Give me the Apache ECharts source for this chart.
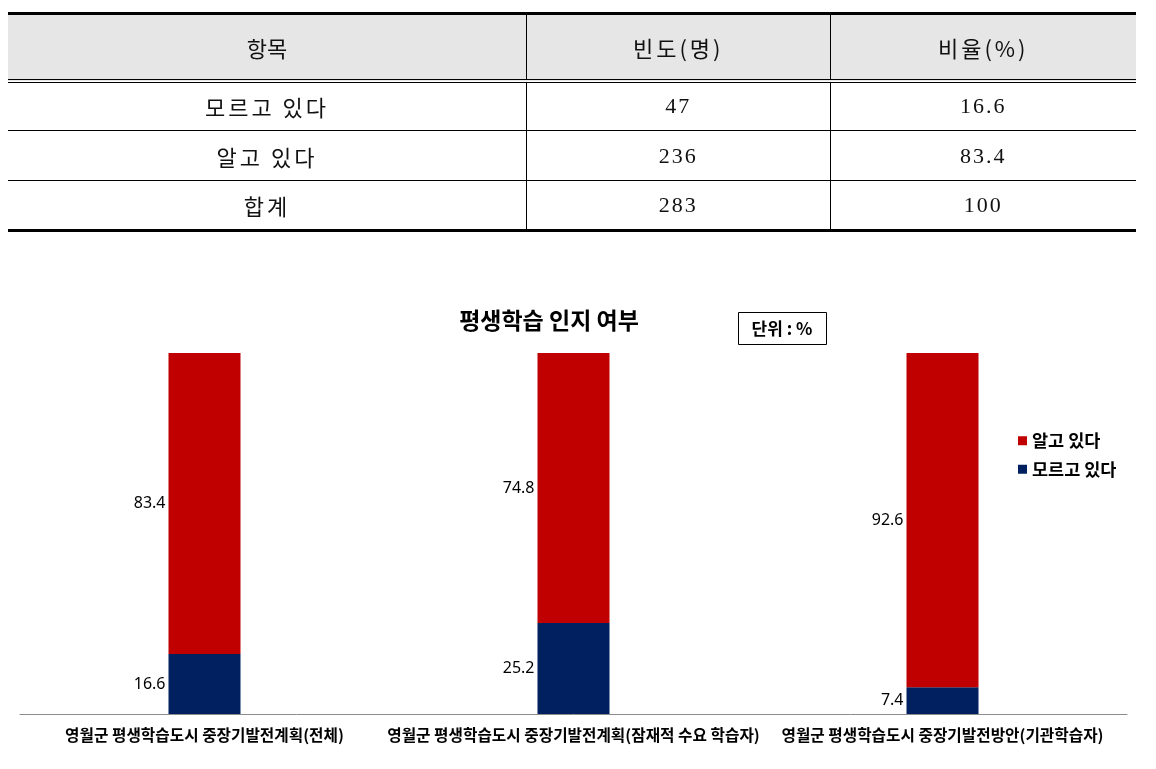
<!DOCTYPE html>
<html>
<head>
<meta charset="utf-8">
<script src="https://cdn.jsdelivr.net/npm/echarts@6/dist/echarts.min.js"></script>
<style>
  html, body { margin:0; padding:0; background:#fff; }
  #wrap { position:relative; width:1156px; height:769px; overflow:hidden; }
  #chart { position:absolute; left:0; top:0; width:1156px; height:769px; }
  #tbl { position:absolute; left:8px; top:12px; width:1128px; border-collapse:collapse;
         font-family:"Liberation Serif","Noto Sans CJK KR",serif; font-size:22px; color:#111; z-index:2; }
  #tbl th, #tbl td { text-align:center; padding:0; font-weight:normal; }
  #tbl thead tr { height:67px; background:#e6e6e6; }
  #tbl thead th { border-top:3px solid #000; border-bottom:4px double #000; }
  #tbl tbody tr { height:50px; }
  #tbl tbody td { border-bottom:1px solid #000; letter-spacing:2px; }
  #tbl tbody tr:last-child td { border-bottom:3px solid #000; }
  #tbl th + th, #tbl td + td { border-left:1px solid #000; }
  #tbl .ko { font-family:"Noto Sans CJK KR", sans-serif; letter-spacing:3px; }
</style>
</head>
<body>
<div id="wrap">
  <div id="chart"></div>
  <table id="tbl"><thead><tr id="hrow"></tr></thead><tbody id="tbody"></tbody></table>
</div>
<script>
// ---- table data ----
var tableHeaders = ['항목', '빈도(명)', '비율(%)'];
var tableItems = ['모르고 있다', '알고 있다', '합계'];
var tableFreq = [47, 236, 283];
var tableRatio = ['16.6', '83.4', '100'];

// ---- chart data ----
var chartTitle = '평생학습 인지 여부';
var unitLabel = '단위 : %';
var categories = [
  '영월군 평생학습도시 중장기발전계획(전체)',
  '영월군 평생학습도시 중장기발전계획(잠재적 수요 학습자)',
  '영월군 평생학습도시 중장기발전방안(기관학습자)'
];
var seriesNames = ['알고 있다', '모르고 있다'];
var knowValues = [83.4, 74.8, 92.6];
var unknownValues = [16.6, 25.2, 7.4];

// build table
var widths = [519, 303, 306];
var hrow = document.getElementById('hrow');
tableHeaders.forEach(function (h, i) {
  var th = document.createElement('th');
  th.textContent = h; th.style.width = widths[i] + 'px';
  th.className = 'ko';
  if (i === 0) th.style.letterSpacing = '0px';
  hrow.appendChild(th);
});
var tb = document.getElementById('tbody');
tableItems.forEach(function (it, i) {
  var tr = document.createElement('tr');
  [it, tableFreq[i], tableRatio[i]].forEach(function (v, j) {
    var td = document.createElement('td');
    td.textContent = v;
    if (j === 0) td.className = 'ko';
    tr.appendChild(td);
  });
  tb.appendChild(tr);
});

var FONT = '"Noto Sans CJK KR", sans-serif';
var chart = echarts.init(document.getElementById('chart'), null, { renderer: 'canvas' });
var labelOpt = { show: true, position: 'left', distance: 3, fontSize: 16, color: '#000',
  fontFamily: '"Noto Sans", sans-serif' };
chart.setOption({
  animation: false,
  textStyle: { fontFamily: FONT },
  grid: { left: 20, right: 29, top: 353, bottom: 55, containLabel: false },
  legend: {
    orient: 'vertical', left: 1013, top: 427, itemWidth: 9, itemHeight: 9, itemGap: 11,
    icon: 'rect', data: seriesNames, itemStyle: { borderWidth: 0 },
    textStyle: { fontSize: 17.5, fontWeight: 'bold', color: '#000', fontFamily: FONT }
  },
  xAxis: {
    type: 'category', data: categories,
    axisLine: { lineStyle: { color: '#8c8c8c', width: 1 } },
    axisTick: { show: false },
    axisLabel: { interval: 0, margin: 13, fontSize: 15.7, fontWeight: 'bold', color: '#000', fontFamily: FONT }
  },
  yAxis: { type: 'value', min: 0, max: 100, show: false, splitLine: { show: false } },
  series: [
    { name: seriesNames[1], type: 'bar', stack: 's', barWidth: 72, data: unknownValues,
      itemStyle: { color: '#002060' }, label: labelOpt },
    { name: seriesNames[0], type: 'bar', stack: 's', barWidth: 72, data: knowValues,
      itemStyle: { color: '#C00000' }, label: labelOpt }
  ],
  graphic: [
    { type: 'text', x: 549, y: 320, style: { text: chartTitle,
      fill: '#000', font: 'bold 23px ' + FONT, textAlign: 'center', textVerticalAlign: 'middle' } },
    { type: 'rect', shape: { x: 738.5, y: 312.5, width: 88, height: 32 },
      style: { fill: '#fff', stroke: '#000', lineWidth: 1 } },
    { type: 'text', x: 782, y: 329, style: { text: unitLabel, font: 'bold 17px ' + FONT,
      fill: '#000', textAlign: 'center', textVerticalAlign: 'middle' } }
  ]
});
</script>
</body>
</html>
